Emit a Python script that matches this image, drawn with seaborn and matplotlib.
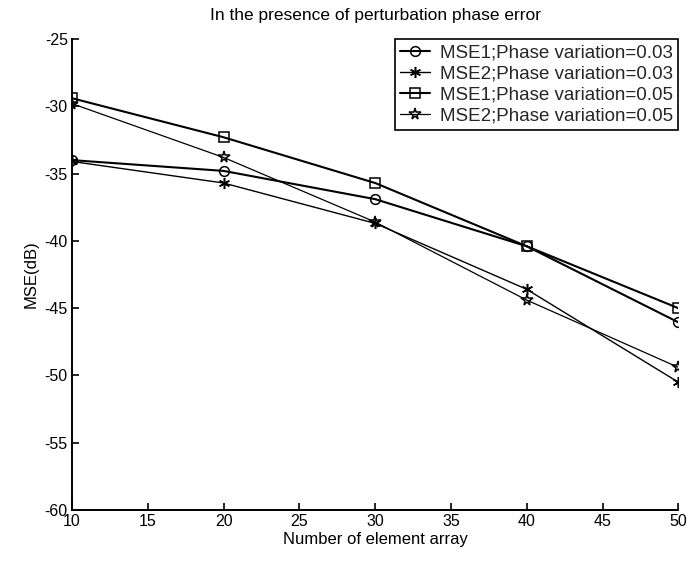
import matplotlib
matplotlib.use("Agg")
import matplotlib.pyplot as plt
import seaborn as sns
import pandas as pd

sns.set_theme(style="white")
plt.rcParams['font.family'] = ['Liberation Sans Narrow', 'Liberation Sans', 'DejaVu Sans']
plt.rcParams['axes.unicode_minus'] = False

elements = [10, 20, 30, 40, 50]
mse1_003 = [-34.0, -34.8, -36.9, -40.4, -46.05]
mse2_003 = [-34.1, -35.7, -38.7, -43.6, -50.5]
mse1_005 = [-29.4, -32.3, -35.7, -40.4, -45.0]
mse2_005 = [-29.8, -33.8, -38.6, -44.4, -49.4]
labels = ["MSE1;Phase variation=0.03", "MSE2;Phase variation=0.03",
          "MSE1;Phase variation=0.05", "MSE2;Phase variation=0.05"]
series = [mse1_003, mse2_003, mse1_005, mse2_005]
markers = ["o", (6, 2, 0), "s", "*"]
widths = [1.5, 1.0, 1.5, 0.9]
msizes = [7, 8, 7, 8.5]

fig = plt.figure(figsize=(6.89, 5.63), dpi=100)
ax = fig.add_axes([0.1045, 0.0941, 0.880, 0.8366])

for vals, lab, mk, lw, ms in zip(series, labels, markers, widths, msizes):
    df = pd.DataFrame({"x": elements, "y": vals})
    sns.lineplot(data=df, x="x", y="y", ax=ax, color="black", linewidth=lw,
                 marker=mk, markersize=ms, markerfacecolor="none",
                 markeredgecolor="black", markeredgewidth=1.1, label=lab)

ax.set_xlim(10, 50)
ax.set_ylim(-60, -25)
ax.set_xticks(range(10, 51, 5))
ax.set_yticks(range(-60, -24, 5))
ax.tick_params(direction="in", length=5, width=1.2, labelsize=11.5, colors="black",
               bottom=True, left=True, pad=3)
for s in ["top", "right"]:
    ax.spines[s].set_visible(False)
for s in ["left", "bottom"]:
    ax.spines[s].set_color("black")
    ax.spines[s].set_linewidth(1.4)

ax.set_xlabel("Number of element array", fontsize=12, color="black", labelpad=2)
ax.set_ylabel("MSE(dB)", fontsize=12, color="black", labelpad=4)
ax.set_title("In the presence of perturbation phase error", fontsize=12.5,
             color="black", pad=14)

leg = ax.legend(loc="upper right", bbox_to_anchor=(1.0, 1.0), fontsize=13.5,
                frameon=True, fancybox=False, edgecolor="black", framealpha=1,
                borderpad=0.3, labelspacing=0.2, handlelength=1.6,
                handletextpad=0.5, borderaxespad=0.0)
leg.get_frame().set_linewidth(1.2)

fig.savefig("out.png", dpi=100)
